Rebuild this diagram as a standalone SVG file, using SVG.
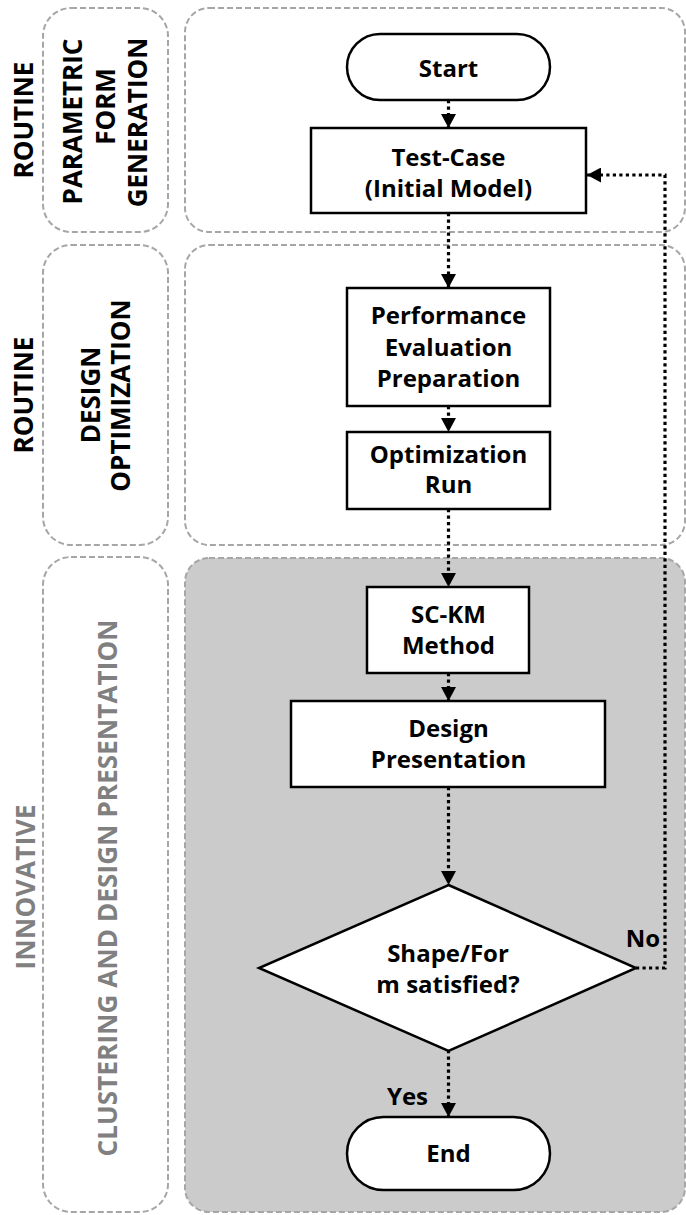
<svg xmlns="http://www.w3.org/2000/svg" width="686" height="1215" viewBox="0 0 686 1215">
  <style>
    .lane { fill: none; stroke: #a6a6a6; stroke-width: 2; stroke-dasharray: 6 3; }
    .lane-grey { fill: #cbcbcb; stroke: #a6a6a6; stroke-width: 2; stroke-dasharray: 6 3; }
    .box { fill: #ffffff; stroke: #000000; stroke-width: 2.5; }
    .t { font-family: "Open Sans", "Liberation Sans", sans-serif; font-weight: bold; font-size: 24px; fill: #000000; text-anchor: middle; }
    .side { font-family: "Open Sans", "Liberation Sans", sans-serif; font-weight: bold; font-size: 26px; fill: #000000; text-anchor: middle; }
    .side-grey { fill: #808080; }
    .flow { fill: none; stroke: #000000; stroke-width: 3.2; stroke-dasharray: 3.2 3.3; }
  </style>
  <defs>
    <marker id="arrow" markerUnits="userSpaceOnUse" markerWidth="15" markerHeight="15" refX="14" refY="7.5" orient="auto">
      <path d="M0,0 L14,7.5 L0,15 Z" fill="#000000"/>
    </marker>
  </defs>

  <!-- swimlane frames -->
  <g id="lanes">
    <rect class="lane" x="43" y="8" width="125" height="224" rx="28"/>
    <rect class="lane" x="185" y="8" width="500" height="224" rx="24"/>
    <rect class="lane" x="43" y="245" width="125" height="300" rx="28"/>
    <rect class="lane" x="185" y="245" width="500" height="300" rx="24"/>
    <rect class="lane" x="43" y="557" width="125" height="655" rx="28"/>
    <rect class="lane-grey" x="185" y="558" width="500" height="654" rx="24"/>
  </g>

  <!-- lane titles -->
  <g id="lane-titles">
    <text class="side" transform="translate(33,120) rotate(-90)">ROUTINE</text>
    <text class="side" transform="translate(82,121.5) rotate(-90)">PARAMETRIC</text>
    <text class="side" transform="translate(115,106.5) rotate(-90)">FORM</text>
    <text class="side" transform="translate(147,122.5) rotate(-90)">GENERATION</text>

    <text class="side" transform="translate(33,395) rotate(-90)">ROUTINE</text>
    <text class="side" transform="translate(100,395) rotate(-90)">DESIGN</text>
    <text class="side" transform="translate(130,395.5) rotate(-90)">OPTIMIZATION</text>

    <text class="side side-grey" transform="translate(35,887) rotate(-90)" textLength="165" lengthAdjust="spacing">INNOVATIVE</text>
    <text class="side side-grey" transform="translate(117,888) rotate(-90)" textLength="537" lengthAdjust="spacing">CLUSTERING AND DESIGN PRESENTATION</text>
  </g>

  <!-- connectors -->
  <g id="connectors">
    <line class="flow" x1="448.5" y1="100" x2="448.5" y2="128" marker-end="url(#arrow)"/>
    <line class="flow" x1="448.5" y1="213" x2="448.5" y2="288" marker-end="url(#arrow)"/>
    <line class="flow" x1="448.5" y1="406" x2="448.5" y2="432" marker-end="url(#arrow)"/>
    <line class="flow" x1="448.5" y1="509" x2="448.5" y2="587" marker-end="url(#arrow)"/>
    <line class="flow" x1="448.5" y1="673" x2="448.5" y2="701" marker-end="url(#arrow)"/>
    <line class="flow" x1="448.5" y1="787" x2="448.5" y2="885" marker-end="url(#arrow)"/>
    <line class="flow" x1="448.5" y1="1050" x2="448.5" y2="1117" marker-end="url(#arrow)"/>
    <polyline class="flow" points="636,968 665,968 665,175 587,175" marker-end="url(#arrow)"/>
    <text class="t" x="660" y="947" style="text-anchor:end">No</text>
    <text class="t" x="428" y="1105" style="text-anchor:end">Yes</text>
  </g>

  <!-- flow nodes -->
  <g id="start">
    <rect class="box" x="347" y="34" width="203" height="66" rx="33"/>
    <text class="t" x="448.5" y="77">Start</text>
  </g>
  <g id="test-case">
    <rect class="box" x="311" y="128" width="275" height="85"/>
    <text class="t" x="448.5" y="166">Test-Case</text>
    <text class="t" x="448.5" y="197">(Initial Model)</text>
  </g>
  <g id="performance-evaluation">
    <rect class="box" x="347" y="288" width="203" height="118"/>
    <text class="t" x="448.5" y="324">Performance</text>
    <text class="t" x="448.5" y="356">Evaluation</text>
    <text class="t" x="448.5" y="387">Preparation</text>
  </g>
  <g id="optimization-run">
    <rect class="box" x="347" y="432" width="203" height="77"/>
    <text class="t" x="448.5" y="463">Optimization</text>
    <text class="t" x="448.5" y="493">Run</text>
  </g>
  <g id="sc-km-method">
    <rect class="box" x="367" y="587" width="162" height="86"/>
    <text class="t" x="448.5" y="623">SC-KM</text>
    <text class="t" x="448.5" y="654">Method</text>
  </g>
  <g id="design-presentation">
    <rect class="box" x="291" y="701" width="314" height="86"/>
    <text class="t" x="448.5" y="737">Design</text>
    <text class="t" x="448.5" y="768">Presentation</text>
  </g>
  <g id="decision">
    <polygon class="box" points="448.5,885 636,968 448.5,1051 259,968"/>
    <text class="t" x="448" y="962">Shape/For</text>
    <text class="t" x="448" y="993">m satisfied?</text>
  </g>
  <g id="end">
    <rect class="box" x="347" y="1117" width="203" height="73" rx="36.5"/>
    <text class="t" x="448.5" y="1162">End</text>
  </g>
</svg>
